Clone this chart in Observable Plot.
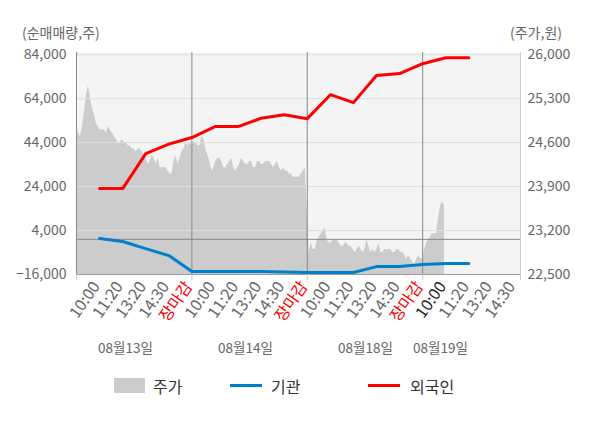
<!DOCTYPE html>
<html><head><meta charset="utf-8">
<script src="https://cdn.jsdelivr.net/npm/d3@7"></script>
<script src="https://cdn.jsdelivr.net/npm/@observablehq/plot@0.6"></script>
<style>
body{margin:0;background:#fff;font-family:"Noto Sans CJK KR","Noto Sans",sans-serif;}
#wrap{position:relative;width:600px;height:428px;overflow:hidden;}
.unit{position:absolute;top:22px;font-size:14px;color:#666;}
.legend{position:absolute;top:373px;left:0;width:600px;height:26px;font-size:16px;color:#333;}
.legend span{position:absolute;top:0;line-height:26px;}
.sw{position:absolute;}
</style></head><body>
<div id="wrap">
  <div class="unit" style="left:22px">(순매매량,주)</div>
  <div class="unit" style="right:38px">(주가,원)</div>
  <div id="chart"></div>
  <div class="legend">
    <div class="sw" style="left:114px;top:5px;width:31px;height:15px;background:#cccccc"></div><span style="left:153px">주가</span>
    <div class="sw" style="left:230px;top:11px;width:32px;height:3px;background:#0080cc"></div><span style="left:271px">기관</span>
    <div class="sw" style="left:368px;top:11px;width:32px;height:3px;background:#ff0000"></div><span style="left:410px">외국인</span>
  </div>
</div>
<script>
// ---- data ----
const timeLabels = ["10:00","11:20","13:20","14:30","장마감",
                    "10:00","11:20","13:20","14:30","장마감",
                    "10:00","11:20","13:20","14:30","장마감",
                    "10:00","11:20","13:20","14:30"];
const dayLabels = ["08월13일","08월14일","08월18일","08월19일"];
const dayLabelSlots = [2.12, 7.32, 12.52, 15.77];
const leftTicks = [-16000, 4000, 24000, 44000, 64000, 84000];
const priceTicks = [22500, 23200, 23900, 24600, 25300, 26000];

// price (주가, 원) samples per day
const priceDay1 = [24800,24750,24700,24850,25100,25350,25500,25300,25150,25050,24900,24850,24800,24800,24800,24750,24850,24800,24750,24700,24650,24600,24600,24650,24600,24600,24550,24550,24500,24500,24450,24500,24500,24450,24400,24350,24250,24300,24400,24350,24250,24350,24200,24200,24200,24200,24150,24100,24100,24300,24400,24250,24350,24450,24500,24600,24550,24600];
const priceDay2 = [24550,24600,24600,24550,24550,24700,24650,24500,24400,24300,24150,24200,24300,24350,24350,24300,24200,24200,24250,24300,24350,24200,24150,24200,24250,24350,24300,24250,24250,24300,24300,24200,24200,24300,24300,24250,24250,24300,24300,24300,24250,24200,24250,24300,24200,24150,24200,24150,24150,24100,24100,24050,24050,24050,24050,24100,24150,24200];
const priceDay3 = [23500,22850,23000,22900,22900,23050,23100,23150,23200,23250,23050,23000,23000,23050,23050,23050,23000,22950,22950,23000,23000,22950,22950,22900,22850,22900,22950,22900,22850,22900,23050,22950,22850,22900,22850,22900,23000,22850,22850,22900,22900,22900,22900,22850,22850,22900,22900,22850,22850,22800,22750,22800,22750,22700,22650,22750,22800,22750];
const priceDay4 = [22750,22900,23000,23050,23100,23150,23150,23150,23400,23600,23650,23600];

// net buying (순매매량, 주) at each time slot 1..17
const institution = [400,-1000,-4200,-7400,-14600,-14600,-14600,-14600,-14900,-15100,-15100,-15100,-12400,-12400,-11500,-11000,-11000];
const foreign = [23100,23100,39000,43300,46300,51300,51300,55100,56700,54900,65800,62200,74500,75400,79900,82600,82600];

// ---- build ----
const SLOTS_PER_DAY = 5, SAMPLES_PER_DAY = 58;
const toLeft = p => -16000 + (p - 22500) * 100000 / 3500;
const toPrice = v => 22500 + (v + 16000) * 3500 / 100000;
const priceRows = [];
[priceDay1, priceDay2, priceDay3, priceDay4].forEach((arr, d) =>
  arr.forEach((p, i) => priceRows.push({x: d * SLOTS_PER_DAY + i * SLOTS_PER_DAY / SAMPLES_PER_DAY, v: toLeft(p)})));
const instRows = institution.map((v, i) => ({x: i + 1, v}));
const forRows = foreign.map((v, i) => ({x: i + 1, v}));
const slotRows = timeLabels.map((t, i) => ({x: i + 1, t, kind: t === "장마감" ? "close" : (i === 15 ? "now" : "time")}));
const dayRows = dayLabels.map((t, i) => ({x: dayLabelSlots[i], t}));
const xMax = 19.24;
const fmt = d3.format(",");
const lab = {x: "x", text: "t", frameAnchor: "bottom", rotate: -55, textAnchor: "end", dx: 1, dy: 12, fontSize: 16};

const chart = Plot.plot({
  width: 600, height: 370,
  marginLeft: 76, marginRight: 80, marginTop: 52, marginBottom: 96,
  style: {fontFamily: '"Noto Sans CJK KR","Noto Sans",sans-serif', background: "transparent"},
  x: {domain: [0, xMax]},
  y: {domain: [-16000, 85000]},
  marks: [
    Plot.frame({fill: "#f4f4f4", stroke: null}),
    Plot.areaY(priceRows, {x: "x", y1: -16000, y2: "v", fill: "#cccccc"}),
    Plot.ruleY(leftTicks, {stroke: "#dddddd"}),
    Plot.ruleY([0], {stroke: "#888888"}),
    Plot.ruleX([5, 10, 15], {stroke: "#888888"}),
    Plot.ruleX([0], {stroke: "#888888"}),
    Plot.ruleX([xMax], {stroke: "#cccccc"}),
    Plot.ruleY([-16000], {stroke: "#999999"}),
    Plot.line(instRows, {x: "x", y: "v", stroke: "#0080cc", strokeWidth: 3}),
    Plot.line(forRows, {x: "x", y: "v", stroke: "#ff0000", strokeWidth: 3}),
    Plot.axisY(leftTicks, {anchor: "left", tickSize: 0, tickPadding: 10, tickFormat: fmt, fontSize: 14, fill: "#666", label: null}),
    Plot.axisY(leftTicks, {anchor: "right", tickSize: 0, tickPadding: 7, tickFormat: v => fmt(Math.round(toPrice(v))), fontSize: 14, fill: "#666", label: null}),
    Plot.axisX([0, 5, 10, 15, xMax], {tickSize: 6, stroke: "#cccccc", tickFormat: () => "", label: null}),
    Plot.text(slotRows.filter(d => d.kind === "time"), {...lab, fill: "#666"}),
    Plot.text(slotRows.filter(d => d.kind === "now"), {...lab, fill: "#222"}),
    Plot.text(slotRows.filter(d => d.kind === "close"), {...lab, fill: "#ff0000"}),
    Plot.text(dayRows, {x: "x", text: "t", frameAnchor: "bottom", dy: 78, fontSize: 13.5, fill: "#666"})
  ]
});
document.getElementById("chart").appendChild(chart);
</script>
</body></html>
